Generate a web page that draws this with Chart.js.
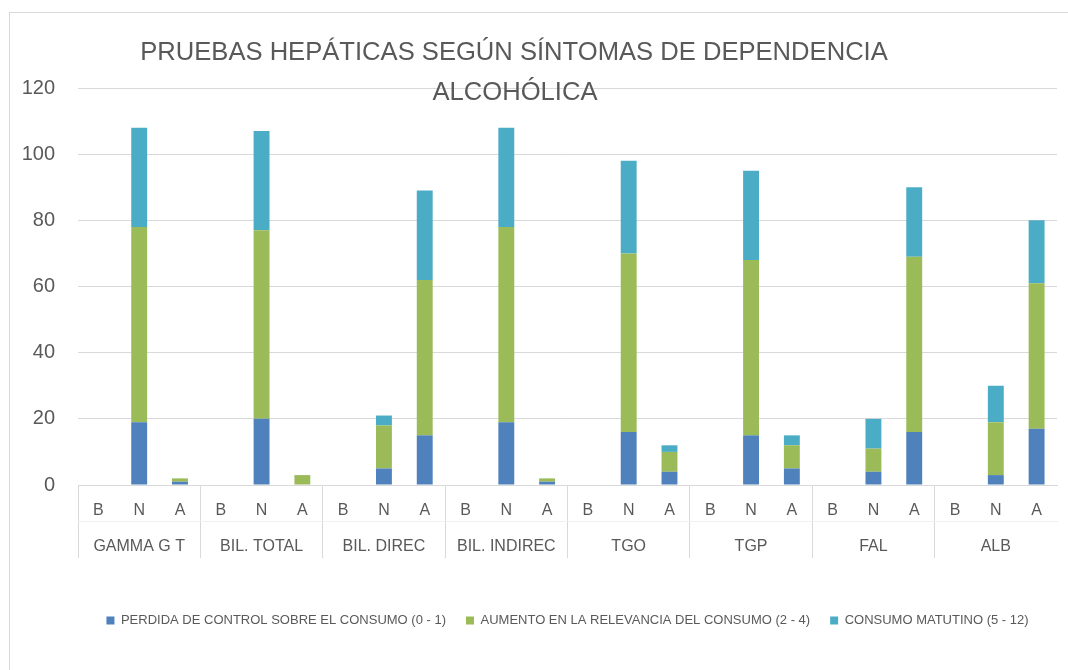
<!DOCTYPE html>
<html><head><meta charset="utf-8">
<script src="https://cdn.jsdelivr.net/npm/chart.js@4.4.1/dist/chart.umd.min.js"></script>
<style>html,body{margin:0;padding:0;background:#fff;overflow:hidden}</style>
</head><body>
<canvas id="c" width="1068" height="670"></canvas>
<script>
const categories = ['B','N','A','B','N','A','B','N','A','B','N','A','B','N','A','B','N','A','B','N','A','B','N','A'];
const groups = ['GAMMA G T','BIL. TOTAL','BIL. DIREC','BIL. INDIREC','TGO','TGP','FAL','ALB'];
const perdidaControl    = [0,19,1, 0,20,0, 0,5,15, 0,19,1, 0,16,4, 0,15,5, 0,4,16, 0,3,17];
const aumentoRelevancia = [0,59,1, 0,57,3, 0,13,47, 0,59,1, 0,54,6, 0,53,7, 0,7,53, 0,16,44];
const consumoMatutino   = [0,30,0, 0,30,0, 0,3,27, 0,30,0, 0,28,2, 0,27,3, 0,9,21, 0,11,19];
const seriesNames = ['PERDIDA DE CONTROL SOBRE EL CONSUMO (0 - 1)','AUMENTO EN LA RELEVANCIA DEL CONSUMO (2 - 4)','CONSUMO MATUTINO (5 - 12)'];
const titleLines = ['PRUEBAS HEPÁTICAS SEGÚN SÍNTOMAS DE DEPENDENCIA','ALCOHÓLICA'];
const yMin = 0, yMax = 120, yStep = 20;

const TXT = '#595959';
const GRID = '#d9d9d9';

const frameAndTitle = {
  id: 'frameAndTitle',
  beforeDraw(chart) {
    const ctx = chart.ctx;
    ctx.save();
    ctx.strokeStyle = GRID;
    ctx.lineWidth = 1;
    ctx.strokeRect(9.5, 12.5, 1080, 700);
    ctx.restore();
  },
  afterDraw(chart) {
    const ctx = chart.ctx;
    ctx.save();
    ctx.fillStyle = TXT;
    ctx.textAlign = 'center';
    ctx.textBaseline = 'alphabetic';
    ctx.font = '25.6px "Liberation Sans", sans-serif';
    ctx.fillText(titleLines[0], 514, 60);
    ctx.fillText(titleLines[1], 515, 100);
    ctx.restore();
  }
};

new Chart(document.getElementById('c'), {
  type: 'bar',
  data: {
    labels: categories,
    datasets: [
      {label: seriesNames[0], data: perdidaControl, backgroundColor: '#4F81BD'},
      {label: seriesNames[1], data: aumentoRelevancia, backgroundColor: '#9BBB59'},
      {label: seriesNames[2], data: consumoMatutino, backgroundColor: '#4BACC6'}
    ]
  },
  options: {
    responsive: false,
    animation: false,
    devicePixelRatio: 1,
    datasets: {bar: {categoryPercentage: 1, barPercentage: 0.39, borderWidth: 0}},
    layout: {padding: {left: 0, right: 11, top: 88, bottom: 33}},
    plugins: {
      title: {display: false},
      tooltip: {enabled: false},
      legend: {
        position: 'bottom',
        fullSize: false,
        labels: {boxWidth: 8, boxHeight: 8, padding: 20, color: TXT,
          font: {family: '"Liberation Sans", sans-serif', size: 13}}
      }
    },
    scales: {
      x: {
        stacked: true,
        offset: true,
        grid: {offset: true, drawOnChartArea: false, drawTicks: true, tickLength: 73,
          color: c => (c.index % 3 === 0 ? GRID : 'rgba(0,0,0,0)'), lineWidth: 1},
        border: {display: true, color: GRID},
        ticks: {color: TXT, font: {family: '"Liberation Sans", sans-serif', size: 16}, padding: -57,
          maxRotation: 0, autoSkip: false},
        afterFit: s => { s.height = 36; }
      },
      x2: {
        type: 'category',
        labels: groups,
        position: 'bottom',
        offset: true,
        grid: {display: false, drawOnChartArea: false},
        border: {display: true, color: '#f0f0f0'},
        ticks: {color: TXT, font: {family: '"Liberation Sans", sans-serif', size: 16}, padding: 8,
          maxRotation: 0, autoSkip: false},
        afterFit: s => { s.height = 73; }
      },
      y: {
        stacked: true,
        min: yMin, max: yMax,
        ticks: {stepSize: yStep, padding: 23, color: TXT, font: {family: '"Liberation Sans", sans-serif', size: 20}},
        grid: {color: GRID, drawTicks: false},
        border: {display: false},
        afterFit: s => { s.width = 78; }
      }
    }
  },
  plugins: [frameAndTitle]
});
</script>
</body></html>
